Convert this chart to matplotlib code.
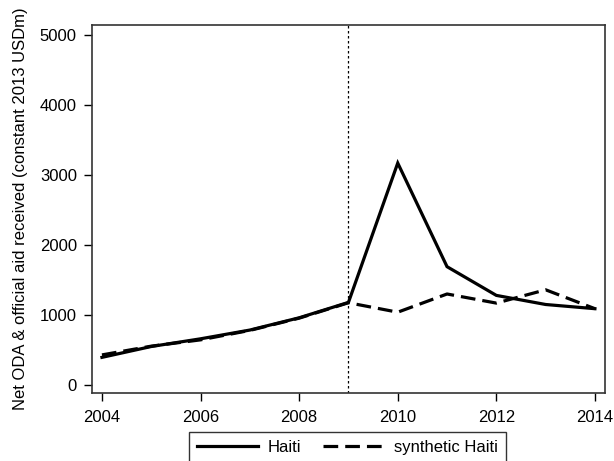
import matplotlib
matplotlib.use("Agg")
import matplotlib.pyplot as plt

years = [2004, 2005, 2006, 2007, 2008, 2009, 2010, 2011, 2012, 2013, 2014]
haiti = [395, 550, 660, 785, 960, 1180, 3170, 1690, 1280, 1150, 1090]
synthetic = [430, 555, 645, 780, 955, 1175, 1040, 1300, 1170, 1360, 1090]
yticks = [0, 1000, 2000, 3000, 4000, 5000]
xticks = [2004, 2006, 2008, 2010, 2012, 2014]
treat_year = 2009

plt.rcParams['font.family'] = ['Liberation Sans', 'DejaVu Sans']

fig = plt.figure(figsize=(6.14, 4.61), dpi=100)
ax = fig.add_axes([0.150, 0.1475, 0.835, 0.7985])

ax.plot(years, haiti, color='black', lw=2.3, solid_joinstyle='miter', label='Haiti')
ax.plot(years, synthetic, color='black', lw=2.3, ls=(0, (4.6, 2.2)), label='synthetic Haiti')
ax.axvline(treat_year, color='black', lw=0.9, ls=(0, (2, 2)))

ax.set_xlim(2003.8, 2014.2)
ax.set_ylim(-114, 5143)
ax.set_xticks(xticks)
ax.set_yticks(yticks)
ax.tick_params(labelsize=12, length=6, width=1, colors='black')
ax.tick_params(axis='x', pad=6)
ax.tick_params(axis='y', pad=5)
ax.set_ylabel('Net ODA & official aid received (constant 2013 USDm)', fontsize=12)
ax.yaxis.set_label_coords(-0.125, 0.5)
for s in ax.spines.values():
    s.set_color('#333333')
    s.set_linewidth(1.2)

fig.legend(loc='upper center', bbox_to_anchor=(0.566, 0.063), ncol=2, fontsize=12,
           frameon=True, fancybox=False, edgecolor='black', handlelength=3.65,
           columnspacing=1.3, borderpad=0.5, borderaxespad=0, handletextpad=0.6)

fig.savefig('out.png', dpi=100)
